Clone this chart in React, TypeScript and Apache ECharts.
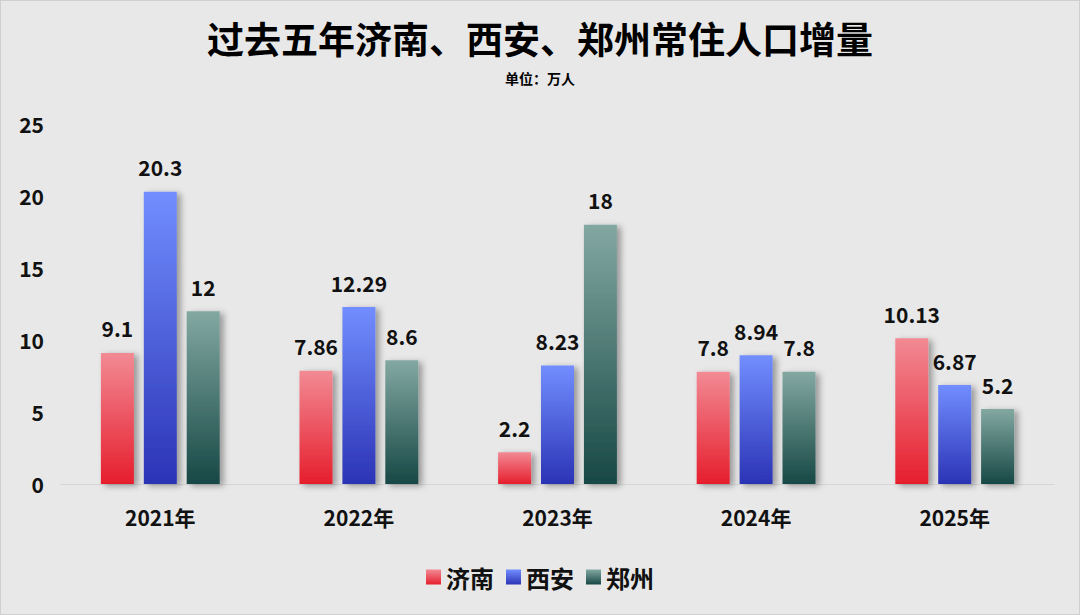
import React, { useEffect, useRef } from "react";
import * as echarts from "echarts";

const years = ["2021年", "2022年", "2023年", "2024年", "2025年"];
const jinan = [9.1, 7.86, 2.2, 7.8, 10.13];
const xian = [20.3, 12.29, 8.23, 8.94, 6.87];
const zhengzhou = [12, 8.6, 18, 7.8, 5.2];

const FONT = "'Noto Sans CJK SC', 'Noto Sans', sans-serif";

const grad = (top: string, bottom: string) =>
	new echarts.graphic.LinearGradient(0, 0, 0, 1, [
		{ offset: 0, color: top },
		{ offset: 1, color: bottom },
	]);

const makeSeries = (name: string, data: number[], top: string, bottom: string) => ({
	name,
	type: "bar",
	data,
	barWidth: 33,
	barGap: "30%",
	itemStyle: {
		color: grad(top, bottom),
		shadowColor: "rgba(0,0,0,0.35)",
		shadowBlur: 6,
		shadowOffsetX: 4,
		shadowOffsetY: 2,
	},
	label: {
		show: true,
		position: "top",
		distance: 14,
		color: "#111",
		fontFamily: FONT,
		fontWeight: "bold",
		fontSize: 21,
	},
});

const App = () => {
	const chartRef = useRef<HTMLDivElement>(null);

	useEffect(() => {
		if (!chartRef.current) return;
		const chart = echarts.init(chartRef.current, null, { renderer: "svg" });

		const option = {
			animation: false,
			backgroundColor: "#e8e8e8",
			title: [
				{
					text: "过去五年济南、西安、郑州常住人口增量",
					left: "center",
					top: 17,
					padding: 0,
					textStyle: {
						fontFamily: FONT,
						fontWeight: "bold",
						fontSize: 37,
						lineHeight: 40,
						color: "#000",
					},
				},
				{
					text: "单位：万人",
					left: "center",
					top: 69,
					padding: 0,
					textStyle: {
						fontFamily: FONT,
						fontWeight: "bold",
						fontSize: 14,
						lineHeight: 15,
						color: "#000",
					},
				},
			],
			legend: {
				bottom: 20,
				left: "center",
				itemWidth: 15,
				itemHeight: 15,
				itemGap: 12,
				icon: "rect",
				textStyle: {
					fontFamily: FONT,
					fontWeight: "bold",
					fontSize: 24,
					color: "#111",
				},
			},
			grid: {
				left: 60,
				right: 25,
				top: 123,
				bottom: 130,
				containLabel: false,
			},
			xAxis: {
				type: "category",
				data: years,
				axisLine: { lineStyle: { color: "#d6d6d6", width: 1 } },
				axisTick: { show: false },
				axisLabel: {
					color: "#111",
					fontFamily: FONT,
					fontWeight: "bold",
					fontSize: 21,
					margin: 22,
				},
			},
			yAxis: {
				type: "value",
				min: 0,
				max: 25,
				interval: 5,
				splitLine: { show: false },
				axisLine: { show: false },
				axisTick: { show: false },
				axisLabel: {
					color: "#111",
					fontFamily: FONT,
					fontWeight: "bold",
					fontSize: 21,
					margin: 17,
				},
			},
			series: [
				makeSeries("济南", jinan, "#f28a94", "#e61e2d"),
				makeSeries("西安", xian, "#728eff", "#2b33b5"),
				makeSeries("郑州", zhengzhou, "#83a8a2", "#174845"),
			],
		};

		chart.setOption(option);

		return () => {
			chart.dispose();
		};
	}, []);

	return (
		<div
			ref={chartRef}
			style={{
				position: "fixed",
				left: 0,
				top: 0,
				width: "1080px",
				height: "615px",
				boxSizing: "border-box",
				border: "1px solid #cfcfcf",
			}}
		/>
	);
};

export default App;
